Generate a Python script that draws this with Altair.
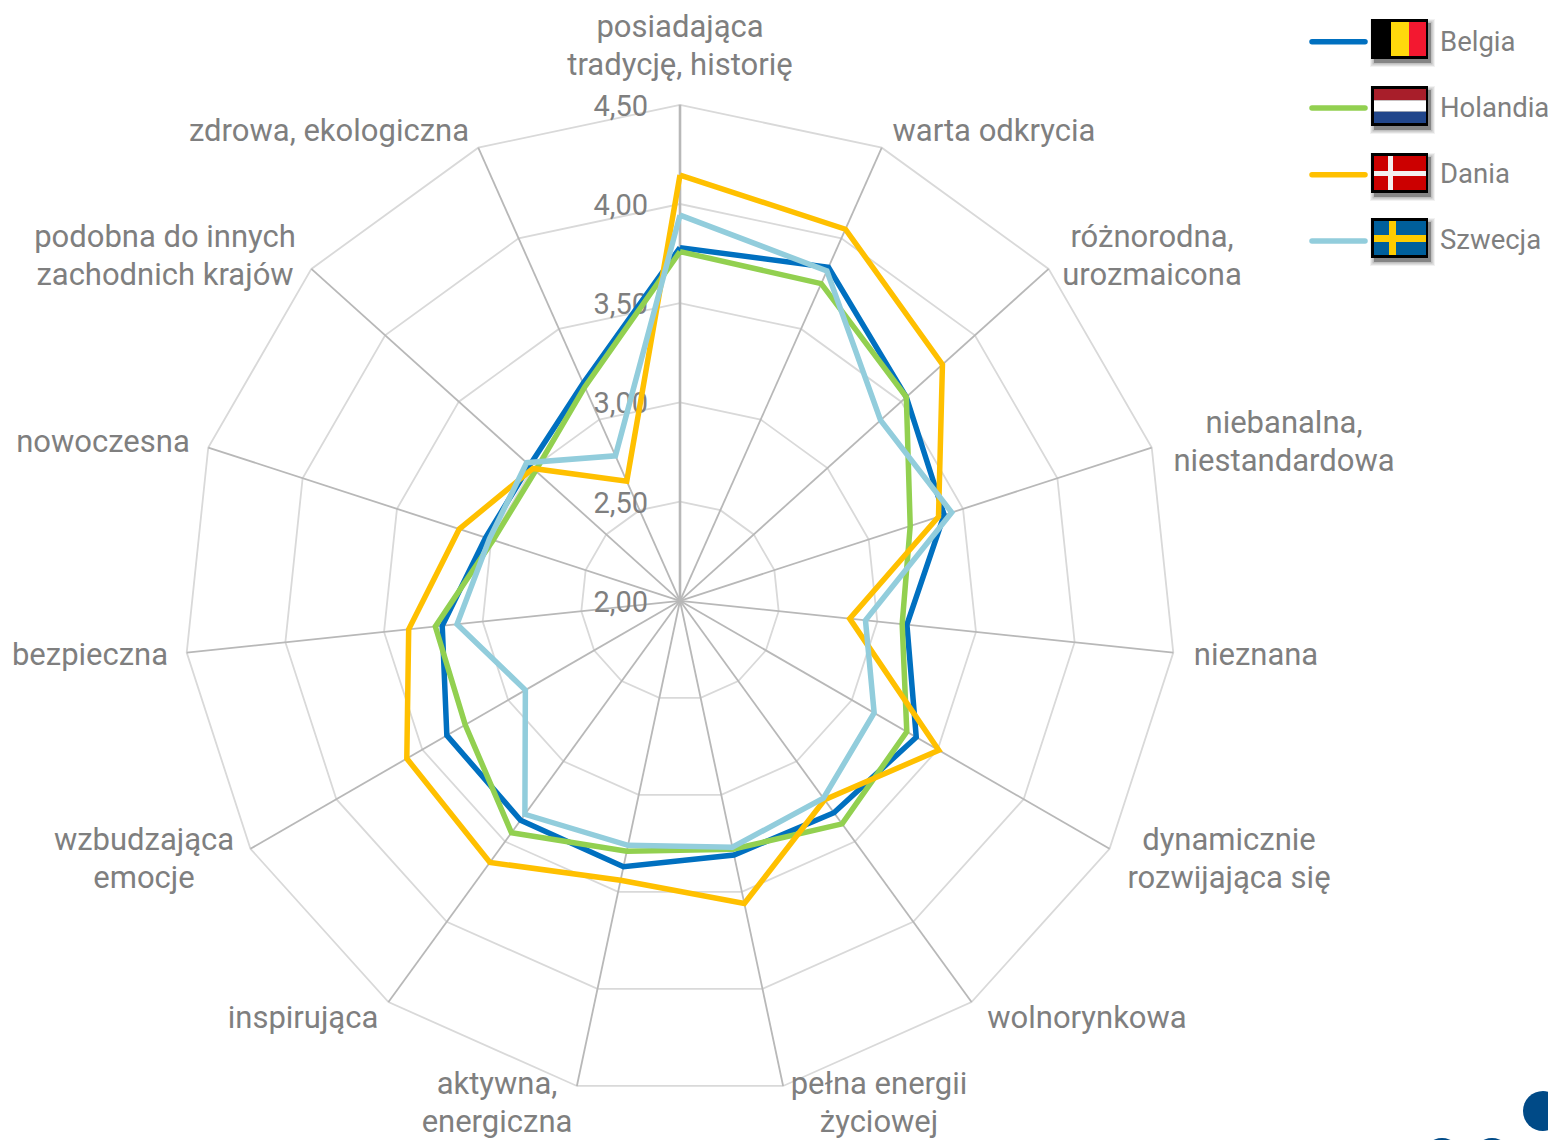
import math
import altair as alt
import pandas as pd

FONT = "Roboto"
GREY = "#7f7f7f"
CATEGORIES = [
    ["posiadająca", "tradycję, historię"], ["warta odkrycia"], ["różnorodna,", "urozmaicona"],
    ["niebanalna,", "niestandardowa"], ["nieznana"], ["dynamicznie", "rozwijająca się"],
    ["wolnorynkowa"], ["pełna energii", "życiowej"], ["aktywna,", "energiczna"], ["inspirująca"],
    ["wzbudzająca", "emocje"], ["bezpieczna"], ["nowoczesna"],
    ["podobna do innych", "zachodnich krajów"], ["zdrowa, ekologiczna"],
]
CAT_POS = [(680, 26), (994, 130), (1152, 236), (1284, 422), (1256, 654), (1229, 839), (1087, 1017),
           (879, 1083), (497, 1083), (303, 1017), (144, 839), (90, 654), (103, 441), (165, 236), (329, 130)]
TICKS = [2.0, 2.5, 3.0, 3.5, 4.0, 4.5]
TICK_LABELS = ["2,00", "2,50", "3,00", "3,50", "4,00", "4,50"]
BELGIA = [3.78, 3.84, 3.535, 3.40, 3.15, 3.375, 3.32, 3.31, 3.37, 3.367, 3.357, 3.205, 3.03, 3.02, 3.20]
HOLANDIA = [3.76, 3.75, 3.535, 3.22, 3.126, 3.32, 3.39, 3.28, 3.29, 3.445, 3.25, 3.24, 2.99, 2.98, 3.18]
DANIA = [4.146, 4.05, 3.78, 3.37, 2.86, 3.506, 3.24, 3.56, 3.44, 3.63, 3.59, 3.375, 3.17, 2.997, 2.66]
SZWECJA = [3.944, 3.82, 3.36, 3.44, 2.94, 3.13, 3.23, 3.27, 3.26, 3.33, 2.90, 3.13, 3.01, 3.04, 2.80]
SERIES = [("Belgia", BELGIA, "#0070c0"), ("Holandia", HOLANDIA, "#92d050"),
          ("Dania", DANIA, "#ffc000"), ("Szwecja", SZWECJA, "#92cddc")]

W, H = 1540, 1132
CX, CY, UNIT = 672.0, 592.8, 198.4
N = len(CATEGORIES)
xs = alt.Scale(domain=[-CX / UNIT, (W - CX) / UNIT], range=[0, W], nice=False, zero=False)
ys = alt.Scale(domain=[-(H - CY) / UNIT, CY / UNIT], range=[H, 0], nice=False, zero=False)
X = alt.X("x:Q", scale=xs, axis=None)
Y = alt.Y("y:Q", scale=ys, axis=None)


def polar(values, closed=True):
    rows = [{"x": (v - 2) * math.sin(2 * math.pi * i / N), "y": (v - 2) * math.cos(2 * math.pi * i / N), "o": i}
            for i, v in enumerate(values)]
    if closed:
        rows.append({**rows[0], "o": N})
    return pd.DataFrame(rows)


layers = []
# rings
for t in TICKS[1:]:
    layers.append(alt.Chart(polar([t] * N)).mark_line(stroke="#d9d9d9", strokeWidth=1.8).encode(x=X, y=Y, order="o:Q"))
# spokes
for i in range(N):
    d = polar([4.5] * N, closed=False).iloc[[i]].copy()
    d["x0"] = 0.0
    d["y0"] = 0.0
    layers.append(alt.Chart(d).mark_rule(stroke="#b8b8b8", strokeWidth=2.6 if i == 0 else 1.8).encode(
        x=X, y=Y, x2="x0:Q", y2="y0:Q"))
# tick labels
tick_df = pd.DataFrame({"y": [t - 2 for t in TICKS], "label": TICK_LABELS})
layers.append(alt.Chart(tick_df).mark_text(font=FONT, fontSize=29, color=GREY, align="right", baseline="middle", dy=2).encode(
    x=alt.value(640), y=Y, text="label:N"))
# series
for name, vals, col in SERIES:
    layers.append(alt.Chart(polar(vals)).mark_line(stroke=col, strokeWidth=5.5, strokeJoin="miter", strokeMiterLimit=10).encode(
        x=X, y=Y, order="o:Q"))
# category labels
rows = []
for lines, (px, py) in zip(CATEGORIES, CAT_POS):
    for j, line in enumerate(lines):
        rows.append({"px": px - 8, "py": py - 6.5 + j * 38.5, "t": line})
layers.append(alt.Chart(pd.DataFrame(rows)).mark_text(font=FONT, fontSize=31, color=GREY, align="center", baseline="middle").encode(
    x=alt.X("px:Q", scale=None), y=alt.Y("py:Q", scale=None), text="t:N"))


def box(x0, x1, y0, y1, col, op=1.0):
    return alt.Chart(pd.DataFrame({"a": [0]})).mark_rect(color=col, opacity=op).encode(
        x=alt.value(x0 - 8), x2=alt.value(x1 - 8), y=alt.value(y0 - 8), y2=alt.value(y1 - 8))


FLAG_TOPS = [19, 86, 153, 218]
LINE_Y = [41.7, 108, 174.7, 241]
TEXT_Y = [43, 109, 175, 241]
for (name, vals, col), top, ly, ty in zip(SERIES, FLAG_TOPS, LINE_Y, TEXT_Y):
    layers.append(alt.Chart(pd.DataFrame({"a": [0]})).mark_rule(stroke=col, strokeWidth=5.5, strokeCap="round").encode(
        x=alt.value(1312 - 8), x2=alt.value(1365 - 8), y=alt.value(ly - 8)))
    for grow, op in [(4, 0.05), (3, 0.08), (1.5, 0.14), (0, 0.3)]:
        layers.append(box(1371 + 3 - grow, 1428 + 3 + grow, top + 4 - grow, top + 40 + 4 + grow, "#000000", op))
    layers.append(box(1371, 1428, top, top + 40, "#000000"))
    i0, i1, t0, t1 = 1374, 1426, top + 3, top + 37
    if name == "Belgia":
        layers += [box(i0, 1391, t0, t1, "#000000"), box(1391, 1409, t0, t1, "#ffd90c"), box(1409, i1, t0, t1, "#f31830")]
    elif name == "Holandia":
        h = (t1 - t0) / 3
        layers += [box(i0, i1, t0, t0 + h, "#a81e2a"), box(i0, i1, t0 + h, t0 + 2 * h, "#ffffff"), box(i0, i1, t0 + 2 * h, t1, "#21468b")]
    elif name == "Dania":
        layers += [box(i0, i1, t0, t1, "#cc0000"), box(1388, 1393, t0, t1, "#f4f0f0"), box(i0, i1, top + 18, top + 23, "#f4f0f0")]
    else:
        layers += [box(i0, i1, t0, t1, "#005f9b"), box(1389, 1396, t0, t1, "#fecc00"), box(i0, i1, top + 17, top + 24, "#fecc00")]
    layers.append(alt.Chart(pd.DataFrame({"t": [name]})).mark_text(font=FONT, fontSize=27.5, color=GREY, align="left", baseline="middle").encode(
        x=alt.value(1440 - 8), y=alt.value(ty - 8), text="t:N"))

# decoration fragments at the bottom right corner
for cx, cy, r in [(1543, 1111, 20), (1442, 1157, 19), (1492, 1157, 19)]:
    layers.append(alt.Chart(pd.DataFrame({"a": [0]})).mark_point(filled=True, shape="circle", color="#004a87", opacity=1, size=(2 * r) ** 2).encode(
        x=alt.value(cx - 8), y=alt.value(cy - 8)))

chart = alt.layer(*layers).properties(width=W, height=H, padding=0, autosize=alt.AutoSizeParams(type="none")).configure_view(stroke=None)
chart.save("out.html", embed_options={"renderer": "svg", "actions": False})
